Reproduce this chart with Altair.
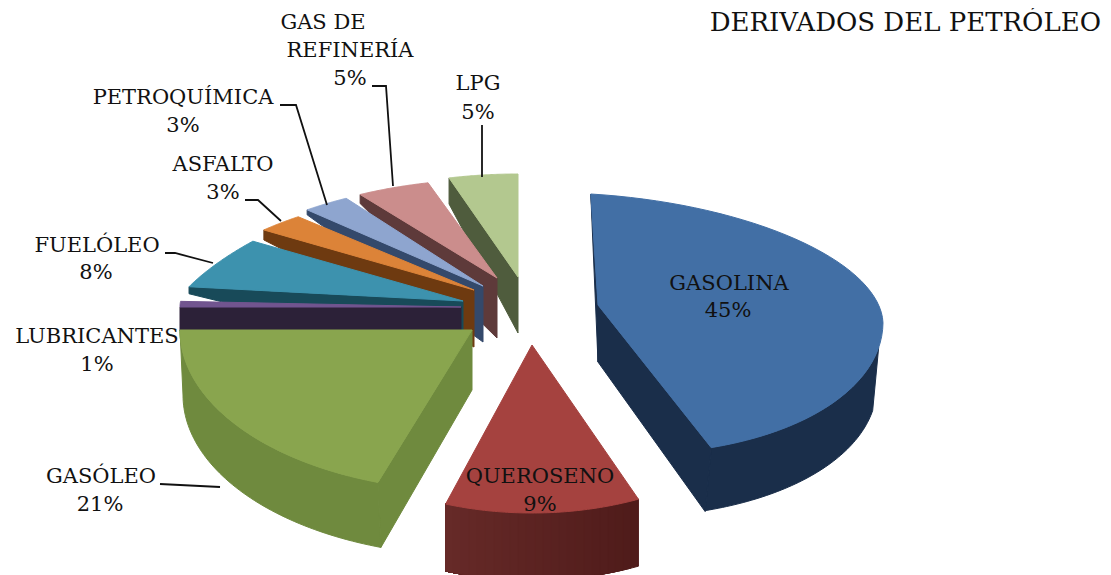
import math
import numpy as np
import altair as alt

# ---- values
categories = ["GASOLINA", "QUEROSENO", "GASÓLEO", "LUBRICANTES", "FUELÓLEO",
              "ASFALTO", "PETROQUÍMICA", "GAS DE REFINERÍA", "LPG"]
values = [45, 9, 21, 1, 8, 3, 3, 5, 5]
title_text = "DERIVADOS DEL PETRÓLEO"

# ---- colours
top_colors = ["#426FA5", "#A5423F", "#89A54E", "#71558F", "#3D92AE",
              "#DC8338", "#8EA5CF", "#CB8D8C", "#B3C88F"]
wall_colors = ["#1A2E4A", "#672A28", "#6F8A3E", "#2C2138", "#184A59",
               "#6E3A10", "#34496B", "#5E3A3A", "#4F5C3D"]
wall_colors_end = ["#1A2E4A", "#4E1B1A", "#6F8A3E", "#2C2138", "#184A59",
                   "#6E3A10", "#34496B", "#5E3A3A", "#4F5C3D"]

# ---- projection of the tilted pie, one entry per slice (page pixels)
layout = {
    "GASOLINA":  dict(apex=(598, 305), rx=285, back=111, front=148, exp=1.0, ky=0.06, kx=0.065, arc=(100, None), arc_h=63, wall_dx=-6, start=(0, 57), end=(64, 57)),
    "QUEROSENO": dict(apex=(532, 345), rx=268, back=105, front=168, exp=1.3, arc=(None, None), arc_h=67),
    "GASÓLEO":   dict(apex=(472, 330), rx=292, back=105, front=161, exp=1.3, arc=(None, None), arc_h=65, wall_dx=3, start=(65, 60)),
    "LUBRICANTES": dict(apex=(461, 307), rx=281, back=90, front=90, exp=1.0, warp=False, start=(24, 24)),
    "FUELÓLEO":  dict(apex=(463, 301), rx=285, back=112, front=100, exp=1.6, start=(7, 60)),
    "ASFALTO":   dict(apex=(474, 290), rx=285, back=100, front=100, exp=1.3, start=(10, 57)),
    "PETROQUÍMICA": dict(apex=(483, 286), rx=285, back=104, front=100, exp=1.3, start=(5, 56)),
    "GAS DE REFINERÍA": dict(apex=(497, 278), rx=285, back=99, front=100, exp=1.3, start=(9, 60)),
    "LPG":       dict(apex=(518, 277), rx=285, back=103, front=100, exp=1.3, start=(26, 56)),
}
# the picture's perspective squeezes the nominal pie angles
warp_in = [0, 90, 162, 180, 194.4, 270, 273.6, 302.4, 313.2, 324, 342, 360]
warp_out = [0, 90, 156.6, 180, 198.8, 270, 286, 312.5, 321.9, 331.3, 346, 360]
draw_order = ["LPG", "GAS DE REFINERÍA", "PETROQUÍMICA", "ASFALTO", "FUELÓLEO",
              "LUBRICANTES", "GASÓLEO", "QUEROSENO", "GASOLINA"]

# ---- labels: (text, centre x, centre y)
label_text = ["GASOLINA", "45%", "QUEROSENO", "9%", "GASÓLEO", "21%", "LUBRICANTES", "1%",
              "FUELÓLEO", "8%", "ASFALTO", "3%", "PETROQUÍMICA", "3%", "GAS DE", "REFINERÍA",
              "5%", "LPG", "5%"]
label_x = [729, 728, 540, 540, 101, 100, 97, 97, 97, 96, 223, 223, 183, 183, 323, 350, 350, 478, 478]
label_y = [284, 311, 477, 505, 477, 505, 337, 365, 246, 273, 165, 193, 98, 126, 23, 51, 79, 84, 113]

leaders = [
    [(482, 125), (482, 177)],
    [(372, 86), (386, 86), (393, 186)],
    [(280, 105), (296, 105), (327, 205)],
    [(245, 200), (258, 200), (281, 221)],
    [(165, 253), (175, 253), (213, 263)],
    [(160, 484), (220, 487)],
]

OFF = 8  # page margin


def point(p, th):
    t = math.radians(th)
    s, c = math.sin(t), math.cos(t)
    dx = p["rx"] * s
    if c >= 0:
        dy = -p["back"] * c ** p["exp"]
    else:
        dy = -p["front"] * c
    x = p["apex"][0] + dx + (p.get("kx", 0) * dy if dy < 0 else 0)
    y = p["apex"][1] + dy + (p.get("ky", 0) * dx if dx > 0 else 0)
    return (x, y)


def poly(pts, fill):
    ring = [[float(x) - OFF, float(y) - OFF] for x, y in pts]
    ring.append(ring[0])
    return {"type": "Feature", "properties": {"fill": fill},
            "geometry": {"type": "Polygon", "coordinates": [ring]}}


def mix(a, b, f):
    ca = [int(a[i:i + 2], 16) for i in (1, 3, 5)]
    cb = [int(b[i:i + 2], 16) for i in (1, 3, 5)]
    return "#" + "".join(f"{round(x + (y - x) * f):02x}" for x, y in zip(ca, cb))


edges = np.concatenate([[0], np.cumsum(values)]) * 360 / sum(values)
spans = {c: (edges[i], edges[i + 1]) for i, c in enumerate(categories)}

features = []
for name in draw_order:
    i = categories.index(name)
    p = layout[name]
    a, b = spans[name]
    if p.get("warp", True):
        a, b = np.interp([a, b], warp_in, warp_out)
    apex = p["apex"]
    wdx = p.get("wall_dx", 0)
    if "start" in p:
        ho, ha = p["start"]
        c = point(p, a)
        features.append(poly([c, apex, (apex[0], apex[1] + ha), (c[0] + (wdx if ho else 0), c[1] + ho)], wall_colors[i]))
    if "arc" in p:
        lo = p["arc"][0] if p["arc"][0] is not None else a
        hi = p["arc"][1] if p["arc"][1] is not None else b
        lo, hi = min(lo, hi), max(lo, hi)
        h = p["arc_h"]
        if wall_colors[i] == wall_colors_end[i]:
            top = [point(p, t) for t in np.linspace(lo, hi, 60)]
            low = [(x + wdx, y + h) for x, y in reversed(top)]
            features.append(poly(top + low, wall_colors[i]))
        else:
            n = 24
            for k in range(n):
                t0 = lo + (hi - lo) * k / n
                top = [point(p, t) for t in np.linspace(t0, hi, 30)]
                low = [(x + wdx, y + h) for x, y in reversed(top)]
                col = mix(wall_colors_end[i], wall_colors[i], (k + 0.5) / n)
                features.append(poly(top + low, col))
    if "end" in p:
        ho, ha = p["end"]
        c = point(p, b)
        features.append(poly([apex, c, (c[0] + wdx, c[1] + ho), (apex[0], apex[1] + ha)], wall_colors[i]))
    arc = [point(p, t) for t in np.linspace(a, b, 60)]
    features.append(poly([apex] + arc, top_colors[i]))

line_features = [
    {"type": "Feature", "properties": {},
     "geometry": {"type": "LineString",
                  "coordinates": [[x - OFF, y - OFF] for x, y in pts]}}
    for pts in leaders
]

proj = dict(type="identity", scale=1, translate=[0, 0])

slices = alt.Chart(alt.InlineData(values={"type": "FeatureCollection", "features": features},
                                  format=alt.DataFormat(property="features", type="json"))
                   ).mark_geoshape(strokeWidth=1).encode(
    fill=alt.Fill("properties.fill:N", scale=None),
    stroke=alt.Stroke("properties.fill:N", scale=None),
).project(**proj)

lines = alt.Chart(alt.InlineData(values={"type": "FeatureCollection", "features": line_features},
                                 format=alt.DataFormat(property="features", type="json"))
                  ).mark_geoshape(filled=False, stroke="#111111", strokeWidth=1.8).project(**proj)

FONT = "DejaVu Serif"
labels = alt.Chart(alt.Data(values=[
    {"t": t, "x": x - OFF, "y": y - OFF} for t, x, y in zip(label_text, label_x, label_y)
])).mark_text(font=FONT, fontSize=21, color="#111111", align="center", baseline="middle").encode(
    x=alt.X("x:Q", scale=None, axis=None),
    y=alt.Y("y:Q", scale=None, axis=None),
    text="t:N",
)

title = alt.Chart(alt.Data(values=[{"t": title_text, "x": 1101 - OFF, "y": 23 - OFF}])).mark_text(
    font=FONT, fontSize=26, color="#111111", align="right", baseline="middle").encode(
    x=alt.X("x:Q", scale=None, axis=None),
    y=alt.Y("y:Q", scale=None, axis=None),
    text="t:N",
)

chart = alt.layer(slices, lines, labels, title).properties(
    width=1095, height=567, padding=0
).configure_view(stroke=None).resolve_scale(x="independent", y="independent")

chart.save("out.html", embed_options={"renderer": "svg", "actions": False})
